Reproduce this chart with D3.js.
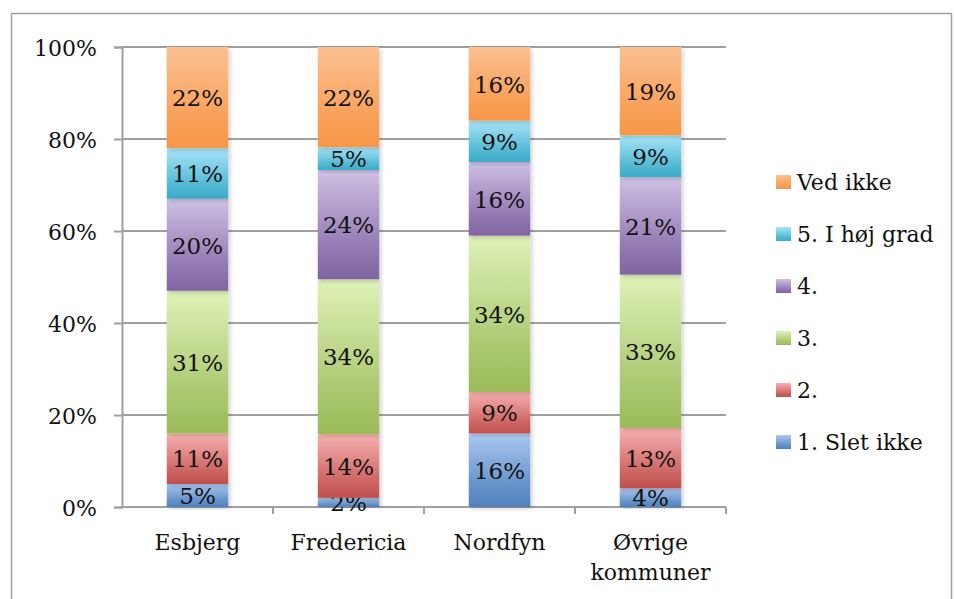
<!DOCTYPE html>
<html>
<head>
<meta charset="utf-8">
<script src="https://cdn.jsdelivr.net/npm/d3@7"></script>
<style>
  html, body { margin: 0; padding: 0; background: #fff; }
  svg text { font-family: "DejaVu Serif", serif; fill: #111; }
</style>
</head>
<body>
<svg id="chart" width="954" height="599"></svg>
<script>
// ---- data ----
const categories = ["Esbjerg", "Fredericia", "Nordfyn", "Øvrige kommuner"];
const seriesNames = ["1. Slet ikke", "2.", "3.", "4.", "5. I høj grad", "Ved ikke"];
const slet   = [5, 2, 16, 4];
const to     = [11, 14, 9, 13];
const tre    = [31, 34, 34, 33];
const fire   = [20, 24, 16, 21];
const fem    = [11, 5, 9, 9];
const vedIkke= [22, 22, 16, 19];
const yTicks = [0, 0.2, 0.4, 0.6, 0.8, 1.0];

const seriesValues = [slet, to, tre, fire, fem, vedIkke];
const gradTop    = ["#abc8f0", "#f7b2b0", "#dff2b8", "#cfc1e4", "#a9e5f9", "#fbc091"];
const gradBottom = ["#4f81bd", "#c0504d", "#9bbb59", "#8064a2", "#3aabc8", "#f79646"];

const rows = categories.map((c, i) => {
  const r = { cat: c };
  seriesNames.forEach((s, j) => r[s] = seriesValues[j][i]);
  return r;
});

const svg = d3.select("#chart");
const defs = svg.append("defs");
seriesNames.forEach((s, j) => {
  const g = defs.append("linearGradient").attr("id", "g" + j)
    .attr("x1", 0).attr("y1", 0).attr("x2", 0).attr("y2", 1);
  g.append("stop").attr("offset", "0%").attr("stop-color", gradTop[j]);
  g.append("stop").attr("offset", "70%").attr("stop-color", d3.interpolateRgb(gradTop[j], gradBottom[j])(0.75));
  g.append("stop").attr("offset", "100%").attr("stop-color", gradBottom[j]);
});
const flt = defs.append("filter").attr("id", "shadow").attr("x", "-20%").attr("y", "-5%").attr("width", "150%").attr("height", "115%");
flt.append("feDropShadow").attr("dx", 2).attr("dy", 2).attr("stdDeviation", 2).attr("flood-color", "#000").attr("flood-opacity", 0.18);

// outer frame
svg.append("rect").attr("x", 11.5).attr("y", 13.5).attr("width", 940).attr("height", 600)
  .attr("fill", "none").attr("stroke", "#a0a0a0").attr("stroke-width", 1.5);

const pLeft = 122, pRight = 726, pTop = 47, pBottom = 507;

const x = d3.scaleBand().domain(categories).range([pLeft, pRight]).paddingInner(0.593).paddingOuter(0.2965);
const y = d3.scaleLinear().domain([0, 1]).range([pBottom, pTop]);

// gridlines
svg.append("g").selectAll("line").data(yTicks.filter(t => t > 0)).join("line")
  .attr("x1", pLeft).attr("x2", pRight)
  .attr("y1", d => y(d)).attr("y2", d => y(d))
  .attr("stroke", "#a0a0a0").attr("stroke-width", 2);

// y axis
const yAxis = svg.append("g").attr("transform", `translate(${pLeft},0)`)
  .call(d3.axisLeft(y).tickValues(yTicks).tickFormat(d3.format(".0%")).tickSize(8).tickPadding(17));
yAxis.select(".domain").attr("stroke", "#a0a0a0").attr("stroke-width", 2);
yAxis.selectAll(".tick line").attr("stroke", "#a0a0a0").attr("stroke-width", 2);
yAxis.selectAll(".tick text").attr("font-size", 22).attr("font-family", "DejaVu Serif").attr("fill", "#111").attr("dy", "0.4em");

// x axis
const bounds = categories.map((c, i) => pLeft + (pRight - pLeft) * (i + 1) / categories.length);
svg.append("line").attr("x1", pLeft).attr("x2", pRight).attr("y1", pBottom).attr("y2", pBottom)
  .attr("stroke", "#a0a0a0").attr("stroke-width", 2);
svg.append("g").selectAll("line").data(bounds).join("line")
  .attr("x1", d => d).attr("x2", d => d).attr("y1", pBottom).attr("y2", pBottom + 7)
  .attr("stroke", "#a0a0a0").attr("stroke-width", 2);

const xl = svg.append("g").selectAll("text").data(categories).join("text")
  .attr("x", d => x(d) + x.bandwidth() / 2).attr("y", 550)
  .attr("text-anchor", "middle").attr("font-size", 22);
xl.each(function(d) {
  const parts = d.split(" ");
  const t = d3.select(this);
  parts.forEach((p, i) => t.append("tspan").attr("x", x(d) + x.bandwidth() / 2).attr("dy", i === 0 ? 0 : 30).text(p));
});

// stacked bars
const stack = d3.stack().keys(seriesNames).offset(d3.stackOffsetExpand);
const stacked = stack(rows);

const layers = svg.append("g").selectAll("g").data(stacked).join("g");
layers.selectAll("rect").data(d => d.map(v => ({ v, key: d.key, idx: d.index }))).join("rect")
  .attr("x", d => x(d.v.data.cat))
  .attr("width", x.bandwidth())
  .attr("y", d => y(d.v[1]))
  .attr("height", d => y(d.v[0]) - y(d.v[1]))
  .attr("fill", d => `url(#g${d.idx})`)
  .attr("filter", "url(#shadow)");

layers.selectAll("text").data(d => d.map(v => ({ v, key: d.key }))).join("text")
  .attr("x", d => x(d.v.data.cat) + x.bandwidth() / 2)
  .attr("y", d => (y(d.v[0]) + y(d.v[1])) / 2)
  .attr("dy", "0.38em")
  .attr("text-anchor", "middle").attr("font-size", 23)
  .text(d => d.v.data[d.key] + "%");

// legend
const legendItems = seriesNames.slice().reverse();
const lg = svg.append("g").selectAll("g").data(legendItems).join("g")
  .attr("transform", (d, i) => `translate(776, ${182 + i * 52})`);
lg.append("rect").attr("x", 0).attr("y", -7).attr("width", 15).attr("height", 14)
  .attr("fill", d => `url(#g${seriesNames.indexOf(d)})`);
lg.append("text").attr("x", 21).attr("y", 0).attr("dy", "0.36em").attr("font-size", 22).text(d => d);
</script>
</body>
</html>
